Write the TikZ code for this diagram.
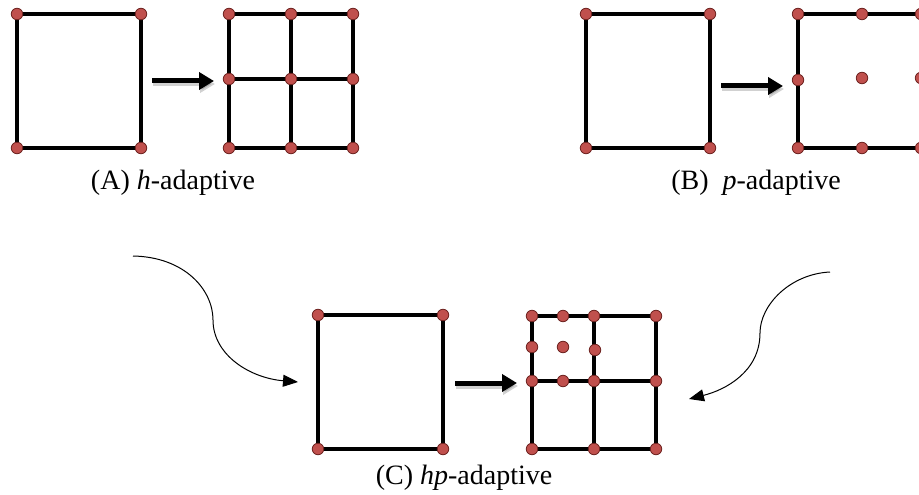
\documentclass[tikz,border=0pt]{standalone}
\usepackage{fontspec}
\setmainfont{Liberation Serif}
\usetikzlibrary{arrows.meta}
\definecolor{dotred}{HTML}{C0504D}
\definecolor{dotdark}{HTML}{6E2320}
\begin{document}
\begin{tikzpicture}[x=1pt,y=-1pt,
  edge/.style={line width=3.6pt, line join=miter},
  dot/.style={circle, fill=dotred, draw=dotdark, line width=0.8pt, inner sep=0pt, minimum size=11.5pt},
  bigarrow/.style={line width=5pt, -{Triangle[length=15pt,width=17pt]}},
  arrowshadow/.style={line width=5pt, black, opacity=0.18, -{Triangle[length=15pt,width=17pt]}},
  curvearrow/.style={line width=1pt, -{Triangle[length=15pt,width=12pt]}},
  lbl/.style={font=\fontsize{28}{32}\selectfont, anchor=base}]
\useasboundingbox (0,0) rectangle (919,495);
\begin{scope}
\clip (0,0) rectangle (919,495);
% ---------- (A) h-adaptive ----------
\coordinate (a1) at (17,14);  \coordinate (a2) at (141,14);
\coordinate (a3) at (17,148); \coordinate (a4) at (141,148);
\draw[edge] (a1) -- (a2) -- (a4) -- (a3) -- cycle;
\foreach \n in {a1,a2,a3,a4} \node[dot] at (\n) {};
\coordinate (ah11) at (229,14);  \coordinate (ah12) at (291,14);  \coordinate (ah13) at (353,14);
\coordinate (ah21) at (229,79);  \coordinate (ah22) at (291,79);  \coordinate (ah23) at (353,79);
\coordinate (ah31) at (229,148); \coordinate (ah32) at (291,148); \coordinate (ah33) at (353,148);
\draw[edge] (ah11) -- (ah13) -- (ah33) -- (ah31) -- cycle;
\draw[edge] (ah12) -- (ah32);
\draw[edge] (ah21) -- (ah23);
\foreach \n in {ah11,ah12,ah13,ah21,ah22,ah23,ah31,ah32,ah33} \node[dot] at (\n) {};
\coordinate (aarS) at (152,81); \coordinate (aarE) at (214,81);
\draw[arrowshadow] ([shift={(1,3)}]aarS) -- ([shift={(1,3)}]aarE);
\draw[bigarrow] (aarS) -- (aarE);
\node[lbl] (labA) at (173,189) {(A) \textit{h}-adaptive};
% ---------- (B) p-adaptive ----------
\coordinate (b1) at (586,14);  \coordinate (b2) at (710,14);
\coordinate (b3) at (586,148); \coordinate (b4) at (710,148);
\draw[edge] (b1) -- (b2) -- (b4) -- (b3) -- cycle;
\foreach \n in {b1,b2,b3,b4} \node[dot] at (\n) {};
\coordinate (bp11) at (798,14);  \coordinate (bp12) at (862,14);  \coordinate (bp13) at (921,14);
\coordinate (bp21) at (798,80);  \coordinate (bp22) at (862,78);  \coordinate (bp23) at (921,78);
\coordinate (bp31) at (798,148); \coordinate (bp32) at (862,148); \coordinate (bp33) at (921,148);
\draw[edge] (bp11) -- (bp13) -- (bp33) -- (bp31) -- cycle;
\foreach \n in {bp11,bp12,bp13,bp21,bp22,bp23,bp31,bp32,bp33} \node[dot] at (\n) {};
\coordinate (barS) at (721,86); \coordinate (barE) at (783,86);
\draw[arrowshadow] ([shift={(1,3)}]barS) -- ([shift={(1,3)}]barE);
\draw[bigarrow] (barS) -- (barE);
\node[lbl] (labB) at (756,189) {(B)\ \ \textit{p}-adaptive};
% ---------- (C) hp-adaptive ----------
\coordinate (c1) at (318,315); \coordinate (c2) at (443,315);
\coordinate (c3) at (318,449); \coordinate (c4) at (443,449);
\draw[edge] (c1) -- (c2) -- (c4) -- (c3) -- cycle;
\foreach \n in {c1,c2,c3,c4} \node[dot] at (\n) {};
\coordinate (ch11) at (532,316); \coordinate (ch12) at (594,316); \coordinate (ch13) at (656,316);
\coordinate (ch21) at (532,381); \coordinate (ch22) at (594,381); \coordinate (ch23) at (656,381);
\coordinate (ch31) at (532,449); \coordinate (ch32) at (594,449); \coordinate (ch33) at (656,449);
\draw[edge] (ch11) -- (ch13) -- (ch33) -- (ch31) -- cycle;
\draw[edge] (ch12) -- (ch32);
\draw[edge] (ch21) -- (ch23);
\coordinate (cx1) at (563,316); \coordinate (cx2) at (532,347); \coordinate (cx3) at (563,347);
\coordinate (cx4) at (595,350); \coordinate (cx5) at (563,381);
\foreach \n in {ch11,ch12,ch13,ch21,ch22,ch23,ch31,ch32,ch33,cx1,cx2,cx3,cx4,cx5} \node[dot] at (\n) {};
\coordinate (carS) at (455,383); \coordinate (carE) at (517,383);
\draw[arrowshadow] ([shift={(1,3)}]carS) -- ([shift={(1,3)}]carE);
\draw[bigarrow] (carS) -- (carE);
\node[lbl] (labC) at (464,484) {(C) \textit{hp}-adaptive};
% ---------- curved arrows ----------
\coordinate (lcS) at (133,256); \coordinate (lcM) at (213,320); \coordinate (lcE) at (298,382);
\draw[curvearrow] (lcS) .. controls (185,257) and (213,290) .. (lcM)
                        .. controls (213,355) and (250,378) .. (lcE);
\coordinate (rcS) at (830,272); \coordinate (rcM) at (760,333); \coordinate (rcE) at (689,399);
\draw[curvearrow] (rcS) .. controls (790,274) and (760,305) .. (rcM)
                        .. controls (760,372) and (725,390) .. (rcE);
\end{scope}
\end{tikzpicture}
\end{document}
